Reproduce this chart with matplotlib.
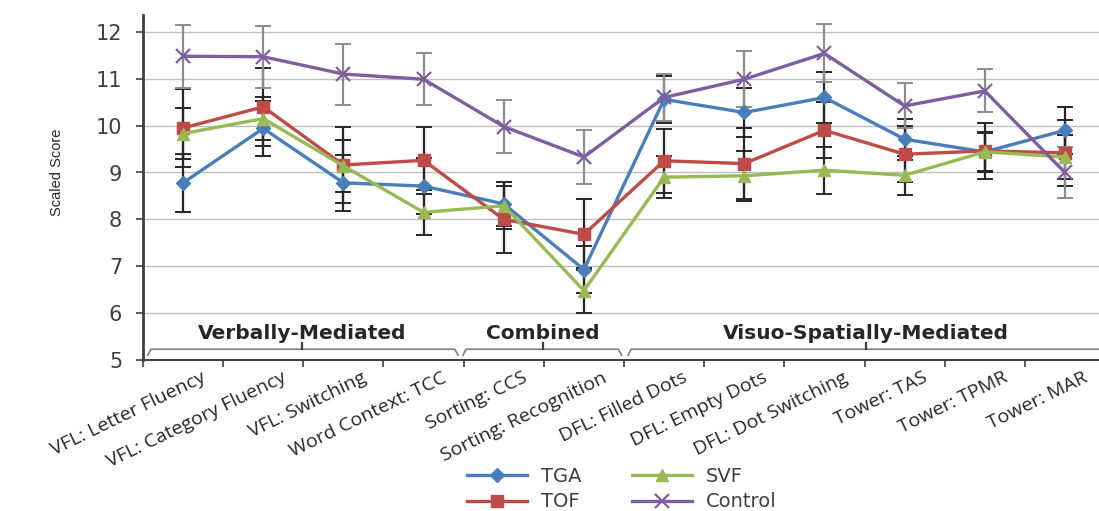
import matplotlib
matplotlib.use("Agg")
import matplotlib.pyplot as plt
import matplotlib.transforms as mtransforms
import numpy as np

categories = ["VFL: Letter Fluency", "VFL: Category Fluency", "VFL: Switching",
              "Word Context: TCC", "Sorting: CCS", "Sorting: Recognition",
              "DFL: Filled Dots", "DFL: Empty Dots", "DFL: Dot Switching",
              "Tower: TAS", "Tower: TPMR", "Tower: MAR"]

tga = [8.78, 9.94, 8.78, 8.71, 8.33, 6.93, 10.56, 10.28, 10.60, 9.71, 9.44, 9.90]
tof = [9.95, 10.40, 9.16, 9.26, 8.00, 7.68, 9.25, 9.19, 9.90, 9.39, 9.46, 9.42]
svf = [9.83, 10.15, 9.14, 8.15, 8.29, 6.48, 8.90, 8.93, 9.05, 8.94, 9.44, 9.33]
control = [11.48, 11.47, 11.10, 10.99, 9.98, 9.33, 10.60, 10.99, 11.54, 10.42, 10.74, 9.00]

tga_err = [0.62, 0.58, 0.60, 0.60, 0.47, 0.50, 0.50, 0.53, 0.55, 0.44, 0.40, 0.50]
tof_err = [0.83, 0.83, 0.82, 0.71, 0.72, 0.75, 0.68, 0.75, 0.60, 0.60, 0.60, 0.70]
svf_err = [0.55, 0.46, 0.55, 0.48, 0.50, 0.48, 0.45, 0.53, 0.50, 0.41, 0.42, 0.46]
control_err = [0.67, 0.66, 0.65, 0.56, 0.56, 0.58, 0.50, 0.60, 0.62, 0.48, 0.46, 0.54]

groups = ["Verbally-Mediated", "Combined", "Visuo-Spatially-Mediated"]
group_spans = [(-0.44, 3.43), (3.49, 5.47), (5.55, 11.6)]
group_centers = [1.48, 4.49, 8.52]

yticks = [5, 6, 7, 8, 9, 10, 11, 12]

fig = plt.figure(figsize=(10.99, 5.11), dpi=100)
ax = fig.add_axes([143/1099, 1 - 360/511, (1105 - 143)/1099, (360 - 15)/511])

x = np.arange(len(categories))

series = [
    ("TGA", tga, tga_err, "#4A7EBB", "D", 7),
    ("TOF", tof, tof_err, "#BE4B48", "s", 8.5),
    ("SVF", svf, svf_err, "#98B954", "^", 9),
    ("Control", control, control_err, "#7D5FA0", "x", 10),
]

for name, vals, err, col, mk, ms in series:
    ecol = "#8c8c8c" if name == "Control" else "#262626"
    ax.errorbar(x, vals, yerr=err, fmt="none", ecolor=ecol, elinewidth=1.6,
                capsize=6, capthick=1.4, zorder=2)

handles = []
for name, vals, err, col, mk, ms in series:
    mew = 1.6 if mk == "x" else 1
    (ln,) = ax.plot(x, vals, color=col, lw=2.4, marker=mk, markersize=ms,
                    markeredgewidth=mew, markeredgecolor=col, markerfacecolor=col,
                    zorder=3, label=name)
    handles.append(ln)

ax.set_xlim(-0.5, 11.5)
ax.set_ylim(5, 12.36)
ax.set_yticks(yticks)
ax.set_yticklabels([str(t) for t in yticks], fontsize=15, color="#404040",
                   family=["DejaVu Sans"])
ax.grid(axis="y", color="#BEBEBE", lw=1)
ax.set_axisbelow(True)

ax.set_xticks(x)
ax.set_xticks(np.arange(-0.5, 12, 1), minor=True)
ax.tick_params(axis="x", which="major", length=0, pad=4)
ax.tick_params(axis="x", which="minor", length=5, width=1.2, color="#404040", direction="out")
ax.tick_params(axis="y", length=5, width=1.2, color="#404040", direction="out", pad=10)
ax.set_xticklabels(categories, rotation=26, ha="right", rotation_mode="anchor",
                   fontsize=14, color="#262626", family=["Open Sans", "DejaVu Sans"])
offset = mtransforms.ScaledTranslation(18/100, -3/100, fig.dpi_scale_trans)
for lab in ax.get_xticklabels():
    lab.set_transform(lab.get_transform() + offset)

for s in ["top", "right"]:
    ax.spines[s].set_visible(False)
ax.spines["left"].set_color("#404040")
ax.spines["left"].set_linewidth(2)
ax.spines["bottom"].set_color("#404040")
ax.spines["bottom"].set_linewidth(1.5)

ax.set_ylabel("Scaled Score", fontsize=10.5, color="#262626",
              family=["Liberation Sans Narrow", "Liberation Sans", "DejaVu Sans"])
ax.yaxis.set_label_coords(-(143 - 64) / 962, (360 - 172) / 345)

for g, (a, b), c in zip(groups, group_spans, group_centers):
    ax.text(c, 5.57, g, ha="center", va="center", fontsize=14.5, fontweight="bold",
            color="#262626", family=["DejaVu Sans"], clip_on=False)
    bx = [a, a + 0.04, b - 0.04, b]
    by = [5.1, 5.23, 5.23, 5.1]
    ax.plot(bx, by, color="#7f7f7f", lw=1.2, clip_on=False, zorder=1)
    ax.plot([c, c], [5.23, 5.36], color="#404040", lw=1.6, clip_on=False, zorder=1)

leg = fig.legend(handles=handles, labels=[h.get_label() for h in handles], ncol=2,
                 loc="center", bbox_to_anchor=(622/1099, 1 - 489/511), frameon=False,
                 handlelength=3.1, handletextpad=0.7, columnspacing=2.6, labelspacing=0.35,
                 borderpad=0.2, prop={"family": ["DejaVu Sans"], "size": 14})
for t in leg.get_texts():
    t.set_color("#404040")

fig.savefig("out.png", dpi=100)
